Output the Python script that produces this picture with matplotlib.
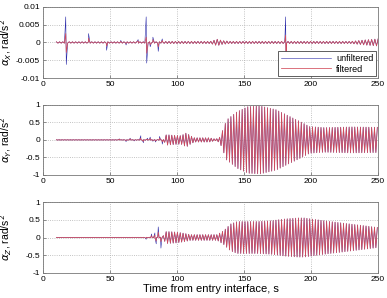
import numpy as np
import matplotlib.pyplot as plt

T_START, T_END = 10.0, 250.0

# ---- alpha_X (rad/s^2): envelope of the small background wiggle + spikes
x_env_t = [10, 88, 92, 125, 130, 134, 140, 230, 240, 250]
x_env_a = [0.0002, 0.0002, 0.0003, 0.0003, 0.0009, 0.0005, 0.0003, 0.0003, 0.0007, 0.001]
x_period = 2.4
x_spk_t = [17, 17.4, 34, 47.5, 58, 62, 71, 77, 77.4, 80, 82, 86, 89, 181, 181.4]
x_spk_unf = [0.0072, -0.0062, 0.0025, -0.0022, 0.0006, -0.0007, 0.0008,
             0.0072, -0.0058, -0.0012, 0.0015, -0.0025, 0.001, 0.0072, -0.0065]
x_spk_fil = [0.0025, -0.0028, 0.0012, -0.0010, 0.0003, -0.0003, 0.0004,
             0.0015, -0.0030, -0.0006, 0.0008, -0.0012, 0.0005, 0.0020, -0.0045]

# ---- alpha_Y
y_env_t = [10, 55, 90, 92, 98, 103, 107, 110, 113, 124, 129, 132, 137, 145,
           153, 162, 174, 184, 192, 199, 210, 230, 250]
y_env_a = [0.004, 0.004, 0.01, 0.15, 0.13, 0.12, 0.2, 0.12, 0.06, 0.06, 0.02,
           0.08, 0.57, 0.81, 0.95, 0.97, 0.86, 0.67, 0.52, 0.38, 0.35, 0.37, 0.36]
y_period = 2.1
y_spk_t = [57, 62, 65, 68, 73, 75, 78, 80, 82, 84, 87, 89]
y_spk_unf = [0.03, -0.05, 0.05, -0.03, 0.12, -0.08, 0.05, 0.08, -0.04, -0.06, 0.1, -0.12]
y_spk_fil = [0.02, -0.02, 0.03, -0.01, 0.05, -0.04, 0.02, 0.04, -0.02, -0.03, 0.05, -0.06]

# ---- alpha_Z
z_env_t = [10, 75, 89, 92, 100, 105, 110, 125, 130, 135, 140, 145, 160,
           170, 180, 190, 195, 210, 225, 240, 250]
z_env_a = [0.004, 0.006, 0.01, 0.17, 0.15, 0.12, 0.08, 0.08, 0.08, 0.2,
           0.38, 0.45, 0.45, 0.47, 0.52, 0.55, 0.55, 0.47, 0.4, 0.33, 0.28]
z_period = 2.1
z_spk_t = [77, 81, 83.5, 84.5, 86, 88]
z_spk_unf = [-0.05, 0.1, 0.13, -0.18, 0.3, -0.3]
z_spk_fil = [-0.02, 0.05, 0.07, -0.1, 0.15, -0.12]

yticks_x = [-0.01, -0.005, 0, 0.005, 0.01]
ytick_labels_x = ['-0.01', '-0.005', '0', '0.005', '0.01']
yticks_yz = [-1, -0.5, 0, 0.5, 1]
ytick_labels_yz = ['-1', '-0.5', '0', '0.5', '1']
xticks = [0, 50, 100, 150, 200, 250]

plt.rcParams['font.family'] = ['Liberation Sans', 'DejaVu Sans']
plt.rcParams['mathtext.fontset'] = 'dejavusans'


def zigzag(env_t, env_a, period):
    t = np.arange(T_START, T_END + 1e-9, period / 2)
    a = np.interp(t, env_t, env_a)
    sign = (-1.0) ** np.arange(len(t))
    return t, a * sign


def build(env_t, env_a, period, spk_t, spk_v):
    t, v = zigzag(env_t, env_a, period)
    t = np.concatenate([t, spk_t])
    v = np.concatenate([v, spk_v])
    order = np.argsort(t, kind='stable')
    return t[order], v[order]


fig = plt.figure(figsize=(3.87, 2.98), dpi=100)
boxes = [[0.111, 0.738, 0.866, 0.239],
         [0.111, 0.413, 0.866, 0.235],
         [0.111, 0.084, 0.866, 0.238]]
panels = [
    (x_env_t, x_env_a, x_period, x_spk_t, x_spk_unf, x_spk_fil, 0.01, yticks_x, ytick_labels_x,
     r'$\alpha_X$, rad/s$^2$'),
    (y_env_t, y_env_a, y_period, y_spk_t, y_spk_unf, y_spk_fil, 1, yticks_yz, ytick_labels_yz,
     r'$\alpha_Y$, rad/s$^2$'),
    (z_env_t, z_env_a, z_period, z_spk_t, z_spk_unf, z_spk_fil, 1, yticks_yz, ytick_labels_yz,
     r'$\alpha_Z$, rad/s$^2$'),
]

for i, (et, ea, per, st, su, sf, lim, yt, ytl, lab) in enumerate(panels):
    ax = fig.add_axes(boxes[i])
    tu, vu = build(et, ea, per, st, su)
    tf, vf = build(et, ea, per, st, sf)
    ax.plot(tu, vu, color='#2828a8', lw=0.4, label='unfiltered')
    ax.plot(tf, vf, color='#d24b5a', lw=0.55, label='filtered')
    ax.set_xlim(0, 250)
    ax.set_ylim(-lim, lim)
    ax.set_xticks(xticks)
    ax.set_yticks(yt)
    ax.set_yticklabels(ytl)
    ax.grid(True, color='#b0b0b0', ls=':', lw=0.6)
    ax.tick_params(labelsize=6, direction='in', length=2, width=0.5, color='#666666', pad=2)
    for s in ax.spines.values():
        s.set_color('#777777')
        s.set_linewidth(0.6)
    ax.set_ylabel(lab, fontsize=7.5)
    ax.yaxis.set_label_coords(-0.085, 0.5)
    if i == 0:
        leg = ax.legend(loc='lower right', fontsize=6.5, handlelength=5.5, frameon=True,
                        fancybox=False, framealpha=1, borderpad=0.3, labelspacing=0.15,
                        handletextpad=0.6, borderaxespad=0.2)
        leg.get_frame().set_edgecolor('#444444')
        leg.get_frame().set_linewidth(0.6)
    if i == 2:
        ax.set_xlabel('Time from entry interface, s', fontsize=8, labelpad=1)

fig.savefig('out.png', dpi=100)
